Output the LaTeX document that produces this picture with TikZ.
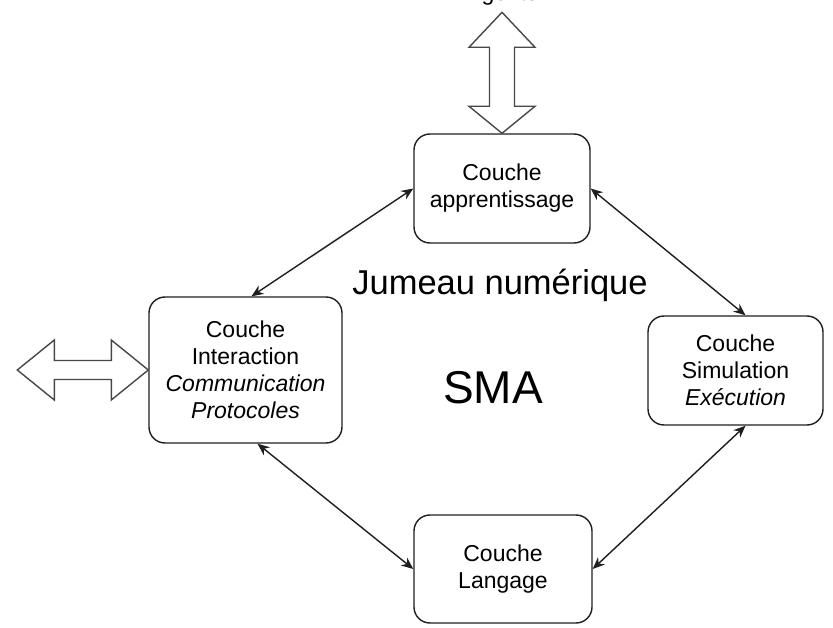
\documentclass[tikz,border=0pt]{standalone}
\usepackage{fontspec}
\setmainfont{Liberation Sans}
\usetikzlibrary{arrows.meta}
\definecolor{lineDark}{HTML}{1E1E1E}
\definecolor{lineGray}{HTML}{484848}
\tikzset{
  layerBox/.style={draw=lineDark, line width=1.4pt, rounded corners=16pt, align=center, inner sep=0pt, font=\fontsize{23}{27}\selectfont},
  layerLink/.style={{Stealth[length=12pt,width=10pt]}-{Stealth[length=12pt,width=10pt]}, line width=1.4pt, draw=lineDark},
  hollowArrow/.style={draw=lineGray, line width=1.4pt, fill=white, line join=miter},
  bigLabel/.style={anchor=base, inner sep=0pt}
}

\begin{document}
\begin{tikzpicture}[x=1pt,y=-1pt]
  \useasboundingbox (0,0) rectangle (833,628);
  % layers
  \node[layerBox, minimum width=176pt, minimum height=109pt] (learn) at (502,188.5) {Couche\\apprentissage};
  \node[layerBox, minimum width=193pt, minimum height=146pt] (inter) at (245.5,370) {Couche\\Interaction\\\textit{Communication}\\\textit{Protocoles}};
  \node[layerBox, minimum width=175pt, minimum height=109pt] (simu) at (735.5,370.5) {Couche\\Simulation\\\textit{Exécution}};
  \node[layerBox, minimum width=178pt, minimum height=108pt] (lang) at (503,569) {Couche\\Langage};
  % centre labels
  \node[bigLabel, font=\fontsize{34.5}{40}\selectfont] (twin) at (500,295) {Jumeau numérique};
  \node[bigLabel, font=\fontsize{46}{52}\selectfont] (sma) at (493,403) {SMA};
  \node[bigLabel, font=\fontsize{23}{27}\selectfont] (agents) at (502,1) {Agents};
  % links between layers
  \draw[layerLink] (learn.west) -- ([xshift=6pt]inter.north);
  \draw[layerLink] (learn.east) -- ([xshift=10pt]simu.north);
  \draw[layerLink] ([xshift=12pt]inter.south) -- (lang.west);
  \draw[layerLink] (lang.east) -- ([xshift=10pt]simu.south);
  % hollow double arrows
  \draw[hollowArrow] (learn.north) -- ++(-33,-27) -- ++(20.5,0) -- ++(0,-59) -- ++(-20.5,0)
    -- ++(33,-35) -- ++(33,35) -- ++(-20.5,0) -- ++(0,59) -- ++(20.5,0) -- cycle;
  \draw[hollowArrow] (inter.west) -- ++(-37,-30) -- ++(0,20.5) -- ++(-57,0) -- ++(0,-20.5)
    -- ++(-37,30) -- ++(37,30) -- ++(0,-20.5) -- ++(57,0) -- ++(0,20.5) -- cycle;
\end{tikzpicture}
\end{document}
